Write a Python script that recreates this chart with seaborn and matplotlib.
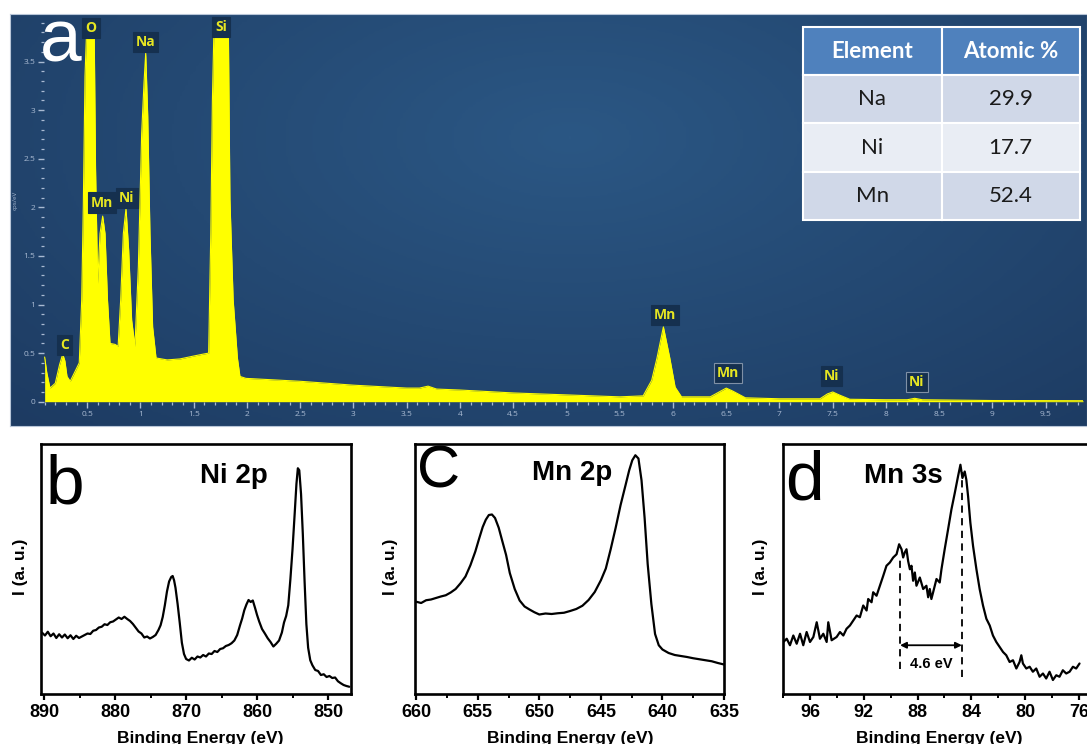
import numpy as np
import pandas as pd
import matplotlib
matplotlib.use("Agg")
import matplotlib.pyplot as plt
import seaborn as sns
from matplotlib.ticker import MultipleLocator, FuncFormatter
from matplotlib.colors import LinearSegmentedColormap

# ---------------- data ----------------
# (a) EDS spectrum
eds_energy = [0.10, 0.12, 0.15, 0.20, 0.24, 0.27, 0.29, 0.31, 0.34, 0.385, 0.425, 0.448,
              0.463, 0.479, 0.495, 0.565, 0.578, 0.598, 0.62, 0.645, 0.667, 0.69, 0.714,
              0.76, 0.79, 0.814, 0.839, 0.864, 0.889, 0.917, 0.948, 0.98, 1.011, 1.033,
              1.049, 1.068, 1.089, 1.114, 1.146, 1.25, 1.37, 1.50, 1.59, 1.64, 1.66, 1.675,
              1.69, 1.825, 1.84, 1.87, 1.91, 1.934, 1.99, 2.5, 3.0, 3.5, 3.62, 3.70, 3.78,
              4.0, 4.5, 5.0, 5.5, 5.72, 5.80, 5.85, 5.91, 5.97, 6.02, 6.08, 6.35, 6.45,
              6.50, 6.56, 6.68, 7.0, 7.38, 7.45, 7.50, 7.56, 7.66, 8.0, 8.2, 8.27, 8.34,
              9.0, 9.85]
eds_counts = [0.46, 0.30, 0.14, 0.19, 0.38, 0.49, 0.42, 0.26, 0.21, 0.31, 0.40, 1.05,
              2.01, 3.35, 3.85, 3.85, 2.40, 1.22, 1.73, 1.91, 1.73, 1.05, 0.60,
              0.59, 0.57, 1.05, 1.73, 1.99, 1.56, 0.84, 0.57, 1.39, 2.76, 3.28,
              3.59, 2.94, 1.73, 0.77, 0.45, 0.43, 0.44, 0.47, 0.49, 0.50, 1.73, 3.09,
              3.85, 3.85, 2.08, 1.05, 0.45, 0.26, 0.24, 0.21, 0.17, 0.14, 0.14, 0.16, 0.13,
              0.12, 0.09, 0.07, 0.05, 0.06, 0.22, 0.45, 0.77, 0.45, 0.15, 0.05, 0.05, 0.11,
              0.14, 0.11, 0.04, 0.03, 0.03, 0.08, 0.10, 0.07, 0.025, 0.02, 0.02, 0.035, 0.02,
              0.012, 0.01]
peak_labels = ["C", "O", "Mn", "Ni", "Na", "Si", "Mn", "Mn", "Ni", "Ni"]
peak_label_x = [0.286, 0.535, 0.638, 0.873, 1.047, 1.756, 5.925, 6.516, 7.49, 8.29]
peak_label_y = [0.585, 3.85, 2.05, 2.10, 3.70, 3.86, 0.89, 0.295, 0.265, 0.20]
peak_label_framed = [False, False, False, False, False, False, False, True, False, True]

table_elements = ["Na", "Ni", "Mn"]
table_atomic = ["29.9", "17.7", "52.4"]
table_header = ["Element", "Atomic %"]

# (b) Ni 2p
ni_energy = [890.3, 889.9, 889.5, 889.1, 888.7, 888.3, 887.9, 887.5, 887.1, 886.7, 886.3, 885.9,
             885.5, 885.1, 884.7, 884.3, 883.9, 883.5, 883.1, 882.7, 882.3, 881.9, 881.5, 881.1,
             880.7, 880.3, 879.9, 879.5, 879.1, 878.7, 878.3, 877.9, 877.5, 877.1, 876.7, 876.3,
             875.9, 875.5, 875.1, 874.7, 874.3, 873.9, 873.6, 873.3, 873.0, 872.7, 872.4, 872.1,
             871.9, 871.7, 871.5, 871.2, 870.9, 870.6, 870.3, 870.0, 869.6, 869.2, 868.8, 868.4,
             868.0, 867.6, 867.2, 866.8, 866.4, 866.0, 865.6, 865.2, 864.8, 864.4, 864.0, 863.6,
             863.2, 862.8, 862.4, 862.1, 861.8, 861.5, 861.2, 860.9, 860.6, 860.3, 860.0, 859.7,
             859.3, 858.9, 858.5, 858.1, 857.7, 857.3, 856.9, 856.5, 856.2, 855.9, 855.6, 855.3,
             855.0, 854.7, 854.45, 854.25, 854.05, 853.8, 853.55, 853.3, 853.05, 852.8, 852.5,
             852.2, 851.8, 851.4, 851.0, 850.6, 850.2, 849.8, 849.4, 849.0, 848.6, 848.2, 847.8,
             847.4, 847.0]
ni_intensity = [24.5, 23.4, 24.9, 23.1, 24.2, 22.4, 23.9, 22.6, 23.8, 22.3, 23.5, 22.0,
                23.3, 22.4, 23.0, 23.6, 24.2, 24.0, 25.3, 25.6, 26.6, 26.9, 27.9, 27.6,
                28.7, 29.0, 29.8, 30.6, 30.0, 30.9, 30.0, 29.2, 28.0, 26.5, 25.0, 24.2,
                22.6, 23.0, 22.2, 22.8, 23.6, 25.6, 27.5, 30.8, 35.5, 41.0, 45.0, 46.8,
                47.2, 45.5, 42.5, 36.0, 28.5, 20.5, 16.0, 14.0, 13.4, 14.5, 13.8, 15.0,
                14.6, 15.6, 15.0, 16.2, 16.0, 17.2, 16.8, 18.0, 18.3, 19.2, 19.6, 20.3,
                21.4, 23.6, 27.5, 30.2, 33.5, 35.8, 37.6, 36.8, 37.4, 34.6, 31.6, 29.0,
                26.0, 24.2, 22.3, 20.8, 19.0, 20.1, 21.4, 24.6, 28.6, 31.2, 35.5, 46.0,
                58.0, 72.0, 84.0, 90.3, 89.5, 80.0, 64.0, 45.0, 28.0, 18.5, 13.5,
                11.5, 9.6, 9.2, 7.6, 7.9, 6.8, 7.2, 6.4, 6.6, 5.1, 4.3, 3.6,
                3.2, 2.9]

# (c) Mn 2p
mn2p_energy = [660.0, 659.6, 659.2, 658.8, 658.4, 658.0, 657.6, 657.2, 656.8, 656.4, 656.0, 655.6,
               655.2, 654.9, 654.6, 654.35, 654.1, 653.85, 653.6, 653.3, 653.0, 652.7, 652.4,
               652.0, 651.6, 651.2, 650.8, 650.4, 650.0, 649.5, 649.0, 648.5, 648.0, 647.5,
               647.0, 646.5, 646.0, 645.5, 645.0, 644.6, 644.2, 643.8, 643.4, 643.0, 642.7,
               642.45, 642.2, 641.95, 641.7, 641.45, 641.2, 640.9, 640.6, 640.3, 640.0, 639.5,
               639.0, 638.5, 638.0, 637.5, 637.0, 636.5, 636.0, 635.5, 635.0]
mn2p_intensity = [36.9, 36.4, 37.5, 37.8, 38.4, 39.0, 39.5, 40.6, 42.0, 44.3, 47.0, 51.5,
                  57.0, 62.0, 66.8, 69.7, 71.6, 71.8, 70.4, 66.5, 61.0, 55.6, 48.4,
                  42.0, 37.4, 35.0, 33.8, 32.7, 31.8, 32.2, 32.0, 32.3, 32.5, 33.2,
                  34.0, 35.3, 37.6, 40.8, 45.5, 50.2, 58.0, 66.5, 75.6, 83.5, 89.5,
                  93.5, 95.5, 94.2, 85.5, 70.5, 52.0, 36.0, 24.0, 19.5, 17.8, 16.4,
                  15.6, 15.2, 14.8, 14.3, 13.9, 13.5, 13.1, 12.4, 11.8]

# (d) Mn 3s
mn3s_energy = [97.98, 97.73, 97.49, 97.24, 96.99, 96.74, 96.50, 96.25, 96.00, 95.75, 95.50, 95.26,
               95.01, 94.76, 94.64, 94.39, 94.02, 93.77, 93.52, 93.28, 93.03, 92.78, 92.53, 92.29,
               92.04, 91.79, 91.67, 91.42, 91.30, 91.05, 90.80, 90.55, 90.31, 90.06, 89.81, 89.56,
               89.37, 89.19, 89.07, 88.95, 88.82, 88.70, 88.57, 88.45, 88.33, 88.20, 88.08, 87.83,
               87.58, 87.34, 87.21, 87.09, 86.97, 86.84, 86.59, 86.35, 86.22, 85.98, 85.73, 85.48,
               85.23, 84.99, 84.81, 84.66, 84.49, 84.37, 84.24, 84.07, 83.87, 83.62, 83.38, 83.13,
               82.88, 82.63, 82.39, 82.14, 81.89, 81.64, 81.40, 81.15, 80.90, 80.65, 80.41, 80.28,
               80.16, 79.91, 79.66, 79.42, 79.17, 78.92, 78.67, 78.43, 78.18, 77.93, 77.68, 77.44,
               77.19, 76.94, 76.69, 76.44, 76.20, 75.95]
mn3s_intensity = [20.8, 22.1, 19.5, 23.4, 20.1, 24.1, 19.5, 24.8, 20.8, 22.8, 28.7, 22.1,
                  24.1, 20.8, 28.7, 21.5, 22.8, 24.8, 23.4, 26.1, 27.4, 29.4, 31.4, 30.7,
                  35.4, 33.4, 38.0, 36.7, 40.7, 39.3, 43.3, 47.3, 51.3, 52.6, 54.6, 55.9,
                  59.9, 57.9, 54.6, 56.6, 57.9, 53.2, 49.9, 51.3, 45.3, 48.6, 43.3, 46.6,
                  42.0, 43.3, 38.7, 42.0, 38.0, 40.7, 46.0, 44.6, 49.9, 57.9, 65.8, 73.8,
                  80.4, 87.0, 91.7, 86.4, 89.0, 85.7, 79.1, 68.5, 59.2, 49.9, 42.0, 35.4,
                  30.1, 27.4, 23.4, 20.8, 18.8, 16.8, 15.5, 12.8, 13.5, 10.2, 12.8, 15.5,
                  12.2, 10.2, 10.9, 8.9, 10.2, 6.9, 8.2, 6.2, 8.9, 5.6, 7.5, 6.9,
                  9.5, 8.2, 8.9, 10.9, 10.2, 12.2]
splitting_peaks = [89.3, 84.7]
splitting_text = "4.6 eV"

# ---------------- figure ----------------
sns.set_style("ticks")
plt.rcParams['font.family'] = ['Liberation Sans', 'DejaVu Sans']
plt.rcParams['text.color'] = 'black'
plt.rcParams['xtick.color'] = 'black'
plt.rcParams['ytick.color'] = 'black'
plt.rcParams['axes.labelcolor'] = 'black'

W, H = 1087, 744
fig = plt.figure(figsize=(W / 100, H / 100), dpi=100)
fig.patch.set_facecolor("white")


def rect(l, t, r, b):
    return [l / W, 1 - b / H, (r - l) / W, (b - t) / H]


# ---- panel a background (radial blue gradient) ----
bg = fig.add_axes(rect(10, 14, 1087, 426))
gy, gx = np.mgrid[0:1:150j, 0:1:400j]
dist = np.clip(np.sqrt(((gx - 0.52) / 0.75) ** 2 + ((gy - 0.3) / 1.0) ** 2), 0, 1)
cmap_bg = LinearSegmentedColormap.from_list("bgblue", ["#2b5784", "#1d3b62"])
bg.imshow(dist, cmap=cmap_bg, aspect="auto", extent=[0, 1, 0, 1], origin="upper")
bg.set_xticks([])
bg.set_yticks([])
for s in bg.spines.values():
    s.set_color("#b8c6d8")
    s.set_linewidth(0.8)

# ---- panel a spectrum ----
axa = fig.add_axes(rect(44, 14, 1083, 401.7))
axa.patch.set_alpha(0)
df_a = pd.DataFrame({"keV": eds_energy, "cps": eds_counts})
axa.fill_between(df_a["keV"], 0, df_a["cps"], color="#ffff00", lw=0, zorder=2)
sns.lineplot(data=df_a, x="keV", y="cps", ax=axa, color="#ffff00", lw=0.8,
             sort=False, estimator=None, zorder=3)
axa.set_xlim(0.094, 9.85)
axa.set_ylim(0, 3.99)
axa.set_xlabel("")
axa.set_ylabel("")
for s in axa.spines.values():
    s.set_visible(False)
tick_col = "#a9bad2"
axa.xaxis.set_major_locator(MultipleLocator(0.5))
axa.xaxis.set_minor_locator(MultipleLocator(0.1))
axa.yaxis.set_major_locator(MultipleLocator(0.5))
axa.yaxis.set_minor_locator(MultipleLocator(0.1))
fmt = FuncFormatter(lambda v, p: f"{v:g}")
axa.xaxis.set_major_formatter(fmt)
axa.yaxis.set_major_formatter(fmt)
axa.tick_params(axis="both", which="major", direction="out", length=4.5, width=1.0,
                color=tick_col, labelcolor=tick_col, labelsize=6, pad=2,
                labelfontfamily="Open Sans")
axa.tick_params(axis="both", which="minor", direction="out", length=2.5, width=0.9,
                color=tick_col)
fig.text(15 / W, 1 - 200 / H, "cps/eV", rotation=90, color=tick_col, fontsize=4.5,
         ha="center", va="center", family="Open Sans")

for lab, lx, ly, fr in zip(peak_labels, peak_label_x, peak_label_y, peak_label_framed):
    axa.text(lx, ly, lab, ha="center", va="center", color="#e6e622", fontsize=10,
             fontweight="bold", family="Open Sans", zorder=6,
             bbox=dict(boxstyle="square,pad=0.22", fc="#15304f",
                       ec="#7f90a6" if fr else "#15304f", lw=0.8))

fig.text(40 / W, 1 - 62 / H, "a", color="white", fontsize=54, ha="left",
         va="baseline", family="Liberation Sans", zorder=10)

# ---- table ----
axt = fig.add_axes(rect(803, 27, 1080, 220))
axt.axis("off")
cells = [[e, v] for e, v in zip(table_elements, table_atomic)]
tbl = axt.table(cellText=cells, colLabels=table_header, cellLoc="center",
                bbox=[0, 0, 1, 1])
tbl.auto_set_font_size(False)
row_cols = ["#d0d8e8", "#e9edf4", "#d0d8e8"]
for (r, c), cell in tbl.get_celld().items():
    cell.set_edgecolor("white")
    cell.set_linewidth(1.5)
    txt = cell.get_text()
    txt.set_fontfamily("Lato")
    if r == 0:
        cell.set_facecolor("#4f81bd")
        txt.set_color("white")
        txt.set_fontweight("bold")
        txt.set_fontsize(16)
    else:
        cell.set_facecolor(row_cols[r - 1])
        txt.set_color("#1a1a1a")
        txt.set_fontsize(16)

# ---- XPS panels ----
def xps_panel(l, r, energy, inten, xlim, major, minor, letter, letter_size,
              letter_pos, title, title_pos, ylab_x, xlab_cx):
    ax = fig.add_axes(rect(l, 444, r, 694))
    sns.lineplot(x=energy, y=inten, ax=ax, color="black", lw=1.6, sort=False,
                 estimator=None)
    ax.set_xlim(*xlim)
    ax.set_ylim(0, 100)
    ax.set_yticks([])
    ax.set_xlabel("")
    ax.set_ylabel("")
    ax.xaxis.set_major_locator(MultipleLocator(major))
    ax.xaxis.set_minor_locator(MultipleLocator(minor))
    ax.xaxis.set_major_formatter(FuncFormatter(lambda v, p: f"{v:g}"))
    ax.tick_params(axis="x", which="major", direction="out", length=4, width=1.6,
                   labelsize=13, pad=3, colors="black")
    ax.tick_params(axis="x", which="minor", direction="out", length=3, width=1.4,
                   colors="black")
    for t in ax.get_xticklabels():
        t.set_fontweight("bold")
    for s in ax.spines.values():
        s.set_linewidth(1.9)
        s.set_color("black")
    fig.text(letter_pos[0] / W, 1 - letter_pos[1] / H, letter, fontsize=letter_size,
             ha="left", va="baseline", color="black")
    fig.text(title_pos[0] / W, 1 - title_pos[1] / H, title, fontsize=20,
             fontweight="bold", ha="left", va="baseline", color="black")
    fig.text(ylab_x / W, 1 - 567 / H, "I (a. u.)", rotation=90, fontsize=12.5,
             fontweight="bold", ha="center", va="center", color="black")
    fig.text(xlab_cx / W, 1 - 731 / H, "Binding Energy (eV)", fontsize=12.5,
             fontweight="bold", ha="center", va="top", color="black")
    return ax


axb = xps_panel(40.7, 350.7, ni_energy, ni_intensity, (890.5, 846.8), 10, 5,
                "b", 50, (46, 503), "Ni 2p", (200, 483), 21, 200)

axc = xps_panel(415, 724, mn2p_energy, mn2p_intensity, (660.1, 635.0), 5, 2.5,
                "C", 43, (417, 488), "Mn 2p", (532, 480), 391, 570)

axd = xps_panel(782.7, 1092.7, mn3s_energy, mn3s_intensity, (98.03, 74.97), 4, 2,
                "d", 50, (785, 500), "Mn 3s", (864, 483), 761, 939)
axd.plot([splitting_peaks[0]] * 2, [10.2, 55.0], ls=(0, (4, 3)), color="black", lw=1.3)
axd.plot([splitting_peaks[1]] * 2, [6.9, 89.0], ls=(0, (4, 3)), color="black", lw=1.3)
axd.annotate("", xy=(splitting_peaks[1], 19.5), xytext=(splitting_peaks[0], 19.5),
             arrowprops=dict(arrowstyle="<|-|>", color="black", lw=1.3,
                             mutation_scale=9, shrinkA=0, shrinkB=0))
axd.text(sum(splitting_peaks) / 2, 12.2, splitting_text, ha="center", va="center",
         fontsize=10.5, fontweight="bold", color="black")

fig.savefig("out.png", dpi=100, facecolor="white")
